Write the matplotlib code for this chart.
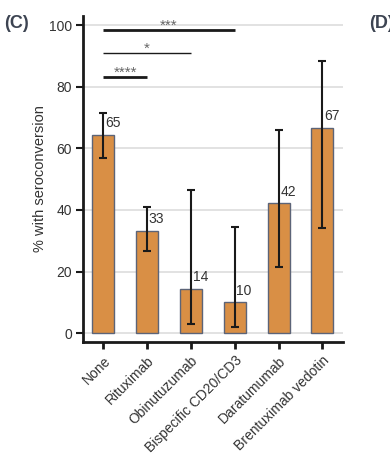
import numpy as np
import matplotlib.pyplot as plt

plt.rcParams["font.family"] = ["Liberation Sans", "DejaVu Sans"]

# --- data
treatments = ["None", "Rituximab", "Obinutuzumab", "Bispecific CD20/CD3",
              "Daratumumab", "Brentuximab vedotin"]
pct = [64.5, 33.3, 14.3, 10.0, 42.1, 66.7]
ci_low = [57.0, 26.6, 2.9, 2.1, 21.4, 34.2]
ci_high = [71.5, 40.8, 46.4, 34.6, 65.9, 88.5]
labels = ["65", "33", "14", "10", "42", "67"]
# comparisons vs "None": (other index, height, stars, line width)
sig = [(3, 98.5, "***", 2.0), (2, 91.0, "*", 1.0), (1, 83.2, "****", 2.0)]

# ---
plt.close()
fig = plt.figure(figsize=(3.9, 4.59), dpi=100)
ax = fig.add_axes([83 / 390, 1 - 341.7 / 459, 260 / 390, 325.7 / 459])

x = np.arange(len(treatments))
txt = "#333333"

ax.bar(x, pct, width=0.5, color="#d98f45", edgecolor="#5c6478",
       linewidth=1.0, zorder=2)
ax.errorbar(x, pct,
            yerr=[np.array(pct) - np.array(ci_low), np.array(ci_high) - np.array(pct)],
            fmt="none", ecolor="#1a1a1a", elinewidth=1.5, capsize=3,
            capthick=1.5, zorder=3)
for xi, v, lab in zip(x, pct, labels):
    ax.text(xi + 0.04, v + 1.5, lab, ha="left", va="bottom", fontsize=10,
            color=txt, zorder=4)

for j, h, stars, lw in sig:
    ax.plot([0, j], [h, h], color="#1a1a1a", lw=lw, solid_capstyle="butt",
            zorder=4)
    ax.text(j / 2, h - 1.0, stars, ha="center", va="bottom", fontsize=11,
            color="#666666")

ax.set_xlim(-0.46, 5.47)
ax.set_ylim(-2.8, 103)
ax.set_yticks([0, 20, 40, 60, 80, 100])
ax.yaxis.grid(True, color="#dddddd", lw=1.2, zorder=0)
ax.set_axisbelow(True)
ax.set_xticks(x)
ax.set_xticklabels(treatments, rotation=45, ha="right", rotation_mode="anchor",
                   fontsize=10, color=txt)
ax.tick_params(axis="y", labelsize=10, labelcolor=txt, length=5, width=1.5,
               color="#1a1a1a", pad=3)
ax.tick_params(axis="x", length=5, width=2, color="#1a1a1a")
ax.set_ylabel("% with seroconversion", fontsize=10.5, color=txt, labelpad=1)

for s in ["top", "right"]:
    ax.spines[s].set_visible(False)
for s in ["left", "bottom"]:
    ax.spines[s].set_linewidth(2)
    ax.spines[s].set_color("#1a1a1a")

fig.text(4 / 390, 1 - 24 / 459, "(C)", fontsize=13, fontweight="bold",
         color="#3d4452", va="center")
# the next panel's label is clipped by the right edge, as in the source
fig.text(369 / 390, 1 - 24 / 459, "(D)", fontsize=13, fontweight="bold",
         color="#3d4452", va="center")

plt.savefig("out.png", dpi=100)
